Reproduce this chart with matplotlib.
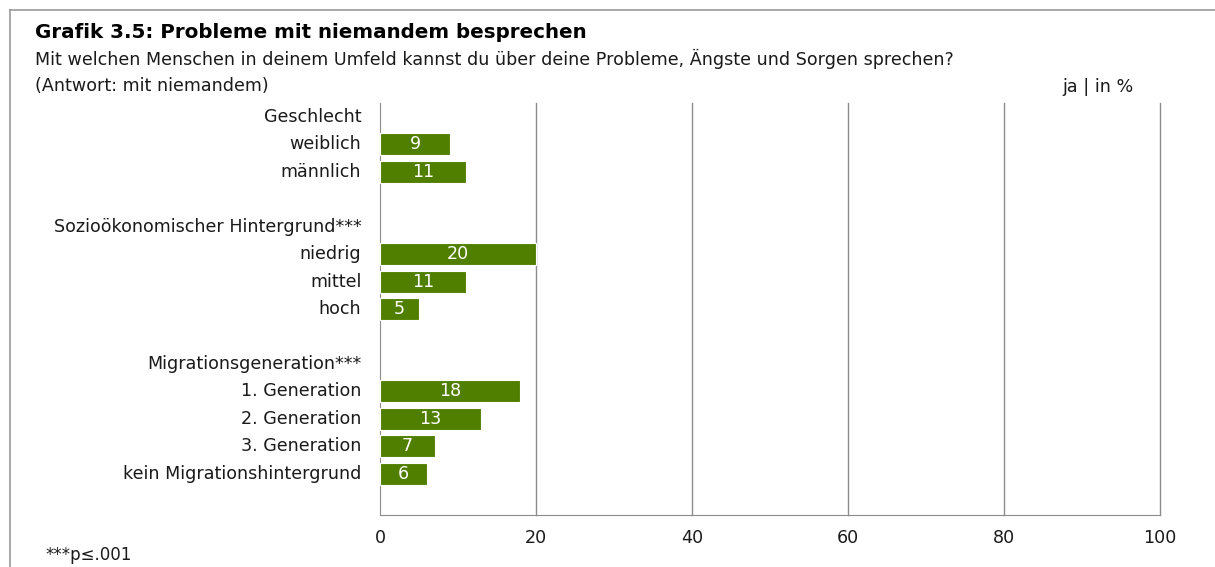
import matplotlib.pyplot as plt
from matplotlib.lines import Line2D

plt.rcParams['font.family'] = ['DejaVu Sans']

# rows from top to bottom; None = group header / spacer row
labels = ['Geschlecht', 'weiblich', 'männlich', '',
          'Sozioökonomischer Hintergrund***', 'niedrig', 'mittel', 'hoch', '',
          'Migrationsgeneration***', '1. Generation', '2. Generation', '3. Generation',
          'kein Migrationshintergrund']
values = [None, 9, 11, None,
          None, 20, 11, 5, None,
          None, 18, 13, 7, 6]
xticks = [0, 20, 40, 60, 80, 100]

green = '#507F00'
txt = '#1a1a1a'
fs = 12.6

fig = plt.figure(figsize=(12.15, 5.67), dpi=100)
W, H = 1215, 567
ax = fig.add_axes([380 / W, 1 - 515 / H, 780 / W, 412 / H])

for i, v in enumerate(values):
    if v is not None:
        ax.barh(i, v, height=0.8, color=green, edgecolor='white', linewidth=0.8, zorder=3)
        ax.text(v / 2, i, str(v), color='white', ha='center', va='center',
                fontsize=fs, zorder=4)
    ax.text(-0.024, i, labels[i], transform=ax.get_yaxis_transform(),
            ha='right', va='center', fontsize=fs, color=txt)

ax.set_xlim(0, 100)
ax.set_ylim(14.5, -0.5)
ax.set_xticks(xticks)
ax.set_yticks([])
ax.tick_params(axis='x', length=0, pad=10, labelsize=fs, colors=txt)
for x in xticks[1:]:
    ax.axvline(x, color='#8c8c8c', linewidth=1, zorder=0, clip_on=False)
for s in ['top', 'right']:
    ax.spines[s].set_visible(False)
ax.spines['left'].set_color('#8c8c8c')
ax.spines['bottom'].set_color('#8c8c8c')

# titles
fig.text(35 / W, 1 - 32 / H, 'Grafik 3.5: Probleme mit niemandem besprechen',
         fontsize=14.3, fontweight='bold', va='center', color='black')
fig.text(35 / W, 1 - 59 / H,
         'Mit welchen Menschen in deinem Umfeld kannst du über deine Probleme, Ängste und Sorgen sprechen?',
         fontsize=fs, va='center', color=txt)
fig.text(35 / W, 1 - 86 / H, '(Antwort: mit niemandem)', fontsize=fs, va='center', color=txt)
fig.text(1134 / W, 1 - 87 / H, 'ja | in %', fontsize=fs, va='center', ha='right', color=txt)
fig.text(45 / W, 1 - 555 / H, '***p≤.001', fontsize=12, va='center', color=txt)

# outer frame (top and left)
fig.add_artist(Line2D([10 / W, 1], [1 - 10 / H, 1 - 10 / H], color='#999999', linewidth=1.2))
fig.add_artist(Line2D([10 / W, 10 / W], [0, 1 - 10 / H], color='#999999', linewidth=1.2))

fig.savefig('out.png', dpi=100)
